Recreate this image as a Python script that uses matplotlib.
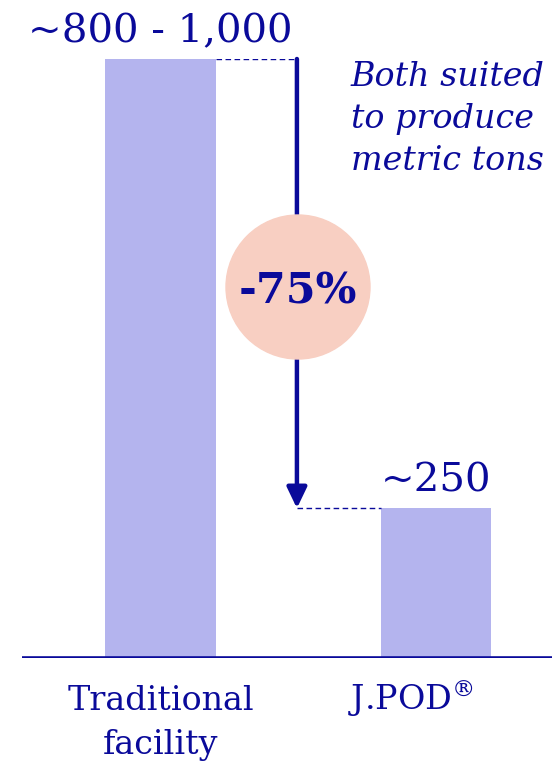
import matplotlib.pyplot as plt
from matplotlib.patches import Circle

plt.rcParams["mathtext.fontset"] = "dejavuserif"

categories = ["Traditional\nfacility", r"J.POD$^{\circledR}$"]
values = [1000, 250]
value_labels = ["~800 - 1,000", "~250"]
change_label = "-75%"
note = "Both suited\nto produce\nmetric tons"

navy = "#0a0a9a"
bar_col = "#b4b4ee"
circ_col = "#f8cfc2"

fig = plt.figure(figsize=(5.52, 7.62), dpi=100)
ax = fig.add_axes([22 / 552, 104 / 762, 530 / 552, 599 / 762])
ax.set_xlim(-0.503, 1.421)
ax.set_ylim(0, max(values))
ax.axis("off")

x = [0, 1]
w = 0.4
ax.bar(x, values, width=w, color=bar_col, zorder=1)

# baseline
ax.axhline(0, color=navy, lw=2.6, zorder=3)

# value labels above bars
for xi, v, lab in zip(x, values, value_labels):
    ax.text(xi, v + 28, lab, ha="center", va="baseline", fontsize=29,
            family="DejaVu Serif", color=navy, clip_on=False)

# category labels, first line baselines line up
# (J.POD sits a bit left because of the superscript)
offs = [0, -0.09]
for xi, o, lab in zip(x, offs, categories):
    lines = lab.split("\n")
    for i, ln in enumerate(lines):
        ax.text(xi + o, -86 - i * 75, ln, ha="center", va="baseline",
                fontsize=24, family="DejaVu Serif", color=navy, clip_on=False)

# arrow between bars
arr_x = 0.495
ax.plot([w / 2, arr_x], [values[0]] * 2, color=navy, lw=1, ls=(0, (4, 2.5)))
ax.plot([arr_x, 1 - w / 2], [values[1]] * 2, color=navy, lw=1, ls=(0, (4, 2.5)))
ax.annotate("", xy=(arr_x, values[1]), xytext=(arr_x, values[0]),
            arrowprops=dict(arrowstyle="-|>,head_length=1.25,head_width=0.6",
                            color=navy, lw=3.2, shrinkA=0, shrinkB=0))

# circle with change label
circ = Circle((298, 762 - 287), 72, transform=None, color=circ_col, zorder=5)
fig.patches.append(circ)
fig.text(298 / 552, 1 - 292 / 762, change_label, ha="center", va="center",
         fontsize=31, weight="bold", family="DejaVu Serif", color=navy, zorder=6)

fig.text(351 / 552, 1 - 119 / 762, note, ha="left", va="center", fontsize=24,
         style="italic", family="DejaVu Serif", color=navy, linespacing=1.42)

fig.savefig("out.png", dpi=100)
